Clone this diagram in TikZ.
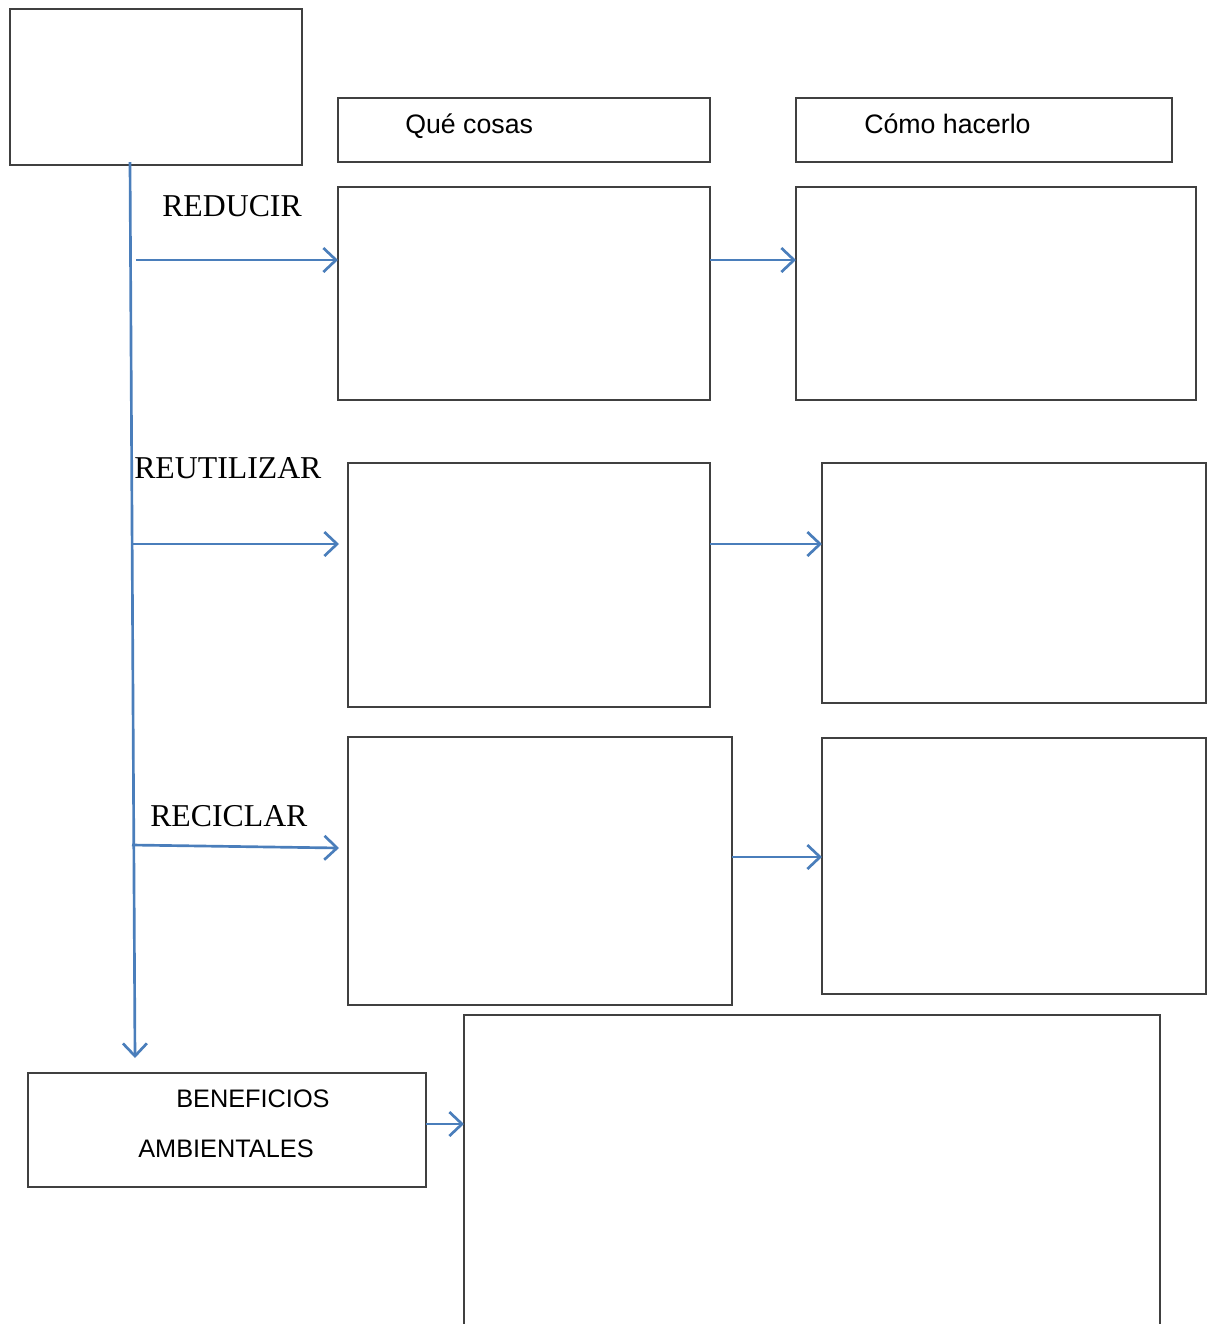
\documentclass[tikz,border=0pt]{standalone}
\usepackage{fontspec}
\setmainfont{Liberation Sans}
\newfontfamily\romana{Liberation Serif}
\usepackage{tikz}
\usetikzlibrary{arrows.meta,calc}
\definecolor{azulflecha}{RGB}{74,126,187}
\def\px{0.025cm}
% caja: nombre, x1, y1, x2, y2 (en pixeles)
\newcommand{\caja}[5]{
    \node[box, minimum width={(#4-#2)*\px}, minimum height={(#5-#3)*\px}]
        (#1) at ({(#2+#4)/2},{(#3+#5)/2}) {};
}
\tikzset{
    box/.style={draw=black!75, line width=1.05pt, inner sep=0pt, outer sep=0pt},
    flecha/.style={draw=azulflecha, line width=1.9pt,
        -{Straight Barb[length=9pt,width=17pt,line width=1.9pt]}},
    texto/.style={anchor=base west, inner sep=0pt, font=\fontsize{19}{21}\selectfont},
    texto chico/.style={texto, font=\fontsize{18}{20}\selectfont},
    accion/.style={anchor=base west, inner sep=0pt, font=\romana\fontsize{22.6}{26}\selectfont}
}
\begin{document}
\begin{tikzpicture}[x=\px, y=-\px]
  \useasboundingbox (0,0) rectangle (1208,1324);

  % cajas
  \caja{tema}{10}{9}{302}{165}
  \caja{cosas}{338}{98}{710}{162}
  \caja{como}{796}{98}{1172}{162}
  \caja{reducirA}{338}{187}{710}{400}
  \caja{reducirB}{796}{187}{1196}{400}
  \caja{reutilizarA}{348}{463}{710}{707}
  \caja{reutilizarB}{822}{463}{1206}{703}
  \caja{reciclarA}{348}{737}{732}{1005}
  \caja{reciclarB}{822}{738}{1206}{994}
  \caja{beneficios}{28}{1073}{426}{1187}

  % caja grande abierta abajo
  \node[inner sep=0pt, outer sep=0pt, minimum width={696*\px}, minimum height={309*\px}]
      (resumen) at (812,1169.5) {};
  \draw[black!75, line width=1.05pt]
      (resumen.south west) |- (resumen.north east) -- (resumen.south east);

  % textos
  \node[texto] (tcosas) at (405,133) {Qué cosas};
  \node[texto] (tcomo) at (864,133) {Cómo hacerlo};
  \node[texto chico] (tbenef1) at (176,1107) {BENEFICIOS};
  \node[texto chico] (tbenef2) at (138,1157) {AMBIENTALES};
  \node[accion] (treducir) at (162,216) {REDUCIR};
  \node[accion] (treutilizar) at (134,478) {REUTILIZAR};
  \node[accion] (treciclar) at (150,826) {RECICLAR};

  % eje vertical
  \coordinate (ejeA) at (130,162);
  \coordinate (ejeB) at (135,1058);
  \draw[flecha] (ejeA) -- (ejeB);

  \coordinate (v1) at (136,260);
  \coordinate (v2) at (132,544);
  \coordinate (v3) at (132,845);
  \coordinate (v4) at (732,857);
  \coordinate (v5) at (426,1124);

  \draw[flecha] (v1) -- (v1 -| reducirA.west);
  \draw[flecha] (v2) -- ($(v2 -| reutilizarA.west)+(-9,0)$);
  \draw[flecha] (v3) -- ($(v3 -| reciclarA.west)+(-9,3)$);

  \draw[flecha] (v1 -| reducirA.east) -- (v1 -| reducirB.west);
  \draw[flecha] (v2 -| reutilizarA.east) -- (v2 -| reutilizarB.west);
  \draw[flecha] (v4 -| reciclarA.east) -- (v4 -| reciclarB.west);
  \draw[flecha] (v5 -| beneficios.east) -- (v5 -| resumen.west);

\end{tikzpicture}
\end{document}
